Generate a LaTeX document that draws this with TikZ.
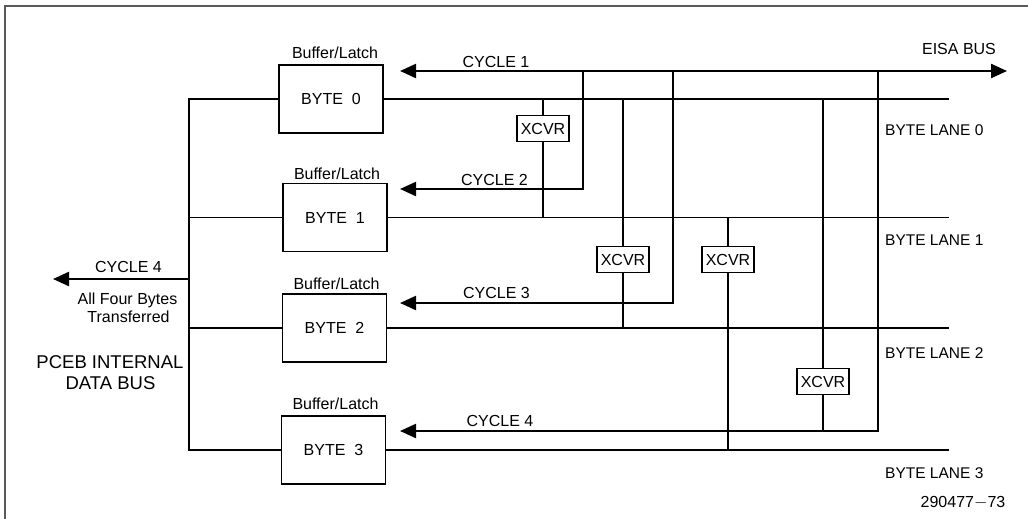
\documentclass[tikz,border=0pt]{standalone}
\usepackage{fontspec}
\setmainfont{Liberation Sans}
\usetikzlibrary{arrows.meta}

\tikzset{
  bytebox/.style={draw, line width=1.3pt, minimum width=104pt, minimum height=68pt, inner sep=0pt, font=\fontsize{16}{18}\selectfont},
  xcvrbox/.style={draw, line width=1.2pt, minimum width=52pt, minimum height=26pt, inner sep=0pt, font=\fontsize{16}{18}\selectfont},
  lbl/.style={anchor=base, inner sep=0pt, font=\fontsize{16}{18}\selectfont},
  lanelbl/.style={anchor=base west, inner sep=0pt, font=\fontsize{15.5}{18}\selectfont},
  wire/.style={line width=1.2pt},
  cyclebus/.style={line width=2.3pt},
  cyclearrow/.style={-{Triangle[length=16pt,width=14pt]}},
}

\begin{document}
\begin{tikzpicture}[x=1pt,y=-1pt]
\useasboundingbox (0,0) rectangle (1028,519) ;
\draw[line width=2pt, black!65] (5,519) -- (5,6) -- (1028,6) ;

% buffer/latch boxes
\node[bytebox] (b0) at (331,99) {BYTE\ \ 0} ;
\node[bytebox] (b1) at (335,217.5) {BYTE\ \ 1} ;
\node[bytebox] (b2) at (334.5,328) {BYTE\ \ 2} ;
\node[bytebox] (b3) at (333.5,450) {BYTE\ \ 3} ;
\node[lbl] (h0) at (335,59) {Buffer/Latch} ;
\node[lbl] (h1) at (337,179) {Buffer/Latch} ;
\node[lbl] (h2) at (336.5,289) {Buffer/Latch} ;
\node[lbl] (h3) at (335.5,409) {Buffer/Latch} ;

% PCEB internal data bus
\coordinate (bus) at (189,0) ;
\draw[wire] (b0.west) -- (b0.west -| bus) -- (b3.west -| bus) -- (b3.west) ;
\draw[wire] (b1.west) -- (b1.west -| bus) ;
\draw[wire] (b2.west) -- (b2.west -| bus) ;
\coordinate (out4) at (53,279) ;
\draw[cyclebus, cyclearrow] (out4 -| bus) -- (out4) ;
\node[lbl] (cy0) at (128.5,272) {CYCLE 4} ;
\node[lbl] (all1) at (127.5,304) {All Four Bytes} ;
\node[lbl] (all2) at (128.5,322) {Transferred} ;
\node[lbl, font=\fontsize{18.5}{21}\selectfont] (pceb1) at (110,368) {PCEB INTERNAL} ;
\node[lbl, font=\fontsize{18.5}{21}\selectfont] (pceb2) at (110.5,389) {DATA BUS} ;

% byte lanes
\coordinate (laneend) at (949,0) ;
\draw[wire] (b0.east) -- (b0.east -| laneend) ;
\draw[wire] (b1.east) -- (b1.east -| laneend) ;
\draw[wire] (b2.east) -- (b2.east -| laneend) ;
\draw[wire] (b3.east) -- (b3.east -| laneend) ;
\node[lanelbl] (t0) at (885,135) {BYTE LANE 0} ;
\node[lanelbl] (t1) at (885,245.5) {BYTE LANE 1} ;
\node[lanelbl] (t2) at (885,358) {BYTE LANE 2} ;
\node[lanelbl] (t3) at (885,478) {BYTE LANE 3} ;

% EISA bus and cycles
\coordinate (c1) at (400,71) ;
\coordinate (eisa) at (1007,71) ;
\coordinate (c2) at (400,189) ;
\coordinate (c3) at (400,303) ;
\coordinate (c4) at (400,431) ;
\draw[cyclebus, {Triangle[length=16pt,width=14pt]}-{Triangle[length=16pt,width=14pt]}] (c1) -- (eisa) ;
\draw[cyclebus, cyclearrow] (583,71) |- (c2) ;
\draw[cyclebus, cyclearrow] (673,71) |- (c3) ;
\draw[cyclebus, cyclearrow] (878,71) |- (c4) ;
\node[lbl] (eisalbl) at (959,55) {EISA BUS} ;
\node[lbl] (cy1) at (496,67) {CYCLE 1} ;
\node[lbl] (cy2) at (494.5,185) {CYCLE 2} ;
\node[lbl] (cy3) at (496.5,298) {CYCLE 3} ;
\node[lbl] (cy4) at (500,426) {CYCLE 4} ;

% transceivers
\node[xcvrbox] (x0) at (543,128.5) {XCVR} ;
\node[xcvrbox] (x1) at (623,259.5) {XCVR} ;
\node[xcvrbox] (x2) at (728,259.5) {XCVR} ;
\node[xcvrbox] (x3) at (823,381.5) {XCVR} ;
\draw[wire] (x0.north) -- (x0.north |- b0.east) ;
\draw[wire] (x0.south) -- (x0.south |- b1.east) ;
\draw[wire] (x1.north) -- (x1.north |- b0.east) ;
\draw[wire] (x1.south) -- (x1.south |- b2.east) ;
\draw[wire] (x2.north) -- (x2.north |- b1.east) ;
\draw[wire] (x2.south) -- (x2.south |- b3.east) ;
\draw[wire] (x3.north) -- (x3.north |- b0.east) ;
\draw[wire] (x3.south) -- (x3.south |- c4) ;

\node[lbl] (fig) at (963,507) {290477$-$73} ;
\end{tikzpicture}
\end{document}
